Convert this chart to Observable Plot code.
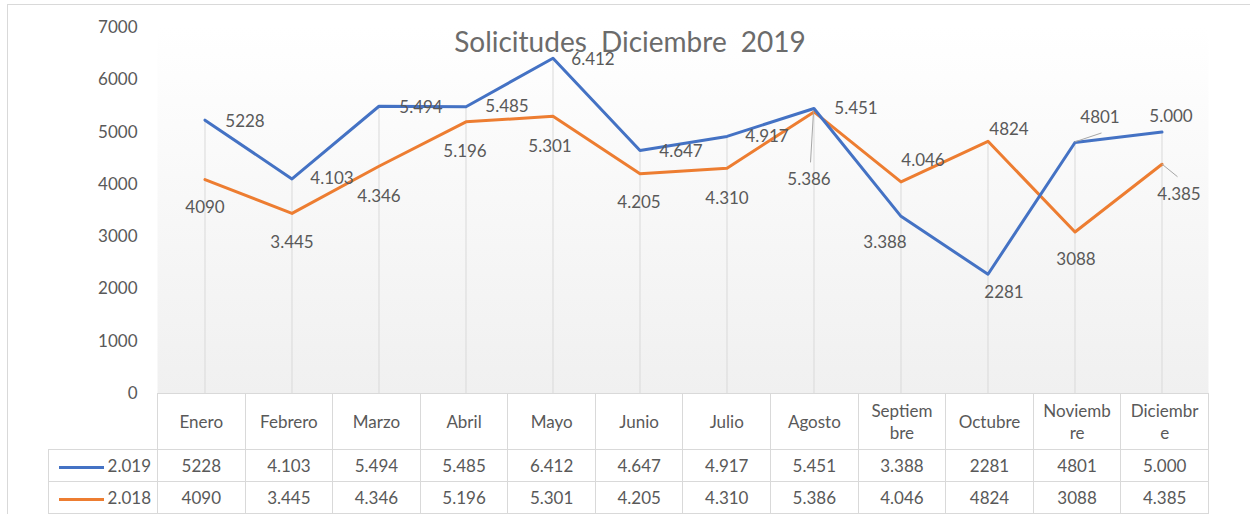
<!DOCTYPE html>
<html>
<head>
<meta charset="utf-8">
<script src="https://cdn.jsdelivr.net/npm/d3@7"></script>
<script src="https://cdn.jsdelivr.net/npm/@observablehq/plot@0.6"></script>
<style>
  html, body { margin: 0; padding: 0; background: #fff; }
  body { width: 1250px; height: 514px; position: relative; overflow: hidden; font-family: Lato, "Open Sans", sans-serif; }
  #border { position: absolute; left: 7px; top: 4px; width: 1300px; height: 600px; border: 1px solid #d9d9d9; box-sizing: border-box; }
  #chart { position: absolute; left: 0; top: 0; }
  #title { position: absolute; left: 330px; width: 600px; top: 26px; text-align: center; font-size: 28px; line-height: 30px; color: #6b6b6b; word-spacing: 7px; }
  #datatable { position: absolute; border-collapse: collapse; table-layout: fixed; color: #595959; font-size: 17px; }
  #datatable td { border: 1px solid #d9d9d9; text-align: center; padding: 0; }
  #datatable tr.head td { height: 55px; line-height: 22px; white-space: pre-line; }
  #datatable tr.row td { height: 31px; }
  #datatable td.blank { border-top: none; border-left: none; }
  #datatable td.legend { text-align: right; padding-right: 6px; }
  .swatch { display: inline-block; width: 45px; height: 3px; vertical-align: middle; margin-right: 4px; }
</style>
</head>
<body>
<div id="border"></div>
<div id="chart"></div>
<div id="title">Solicitudes Diciembre 2019</div>
<script>
// ---- data ----
const months = ["Enero","Febrero","Marzo","Abril","Mayo","Junio","Julio","Agosto","Septiembre","Octubre","Noviembre","Diciembre"];
const headerLabels = ["Enero","Febrero","Marzo","Abril","Mayo","Junio","Julio","Agosto","Septiem\nbre","Octubre","Noviemb\nre","Diciembr\ne"];
const seriesNames = ["2.019","2.018"];
const values2019 = [5228,4103,5494,5485,6412,4647,4917,5451,3388,2281,4801,5000];
const values2018 = [4090,3445,4346,5196,5301,4205,4310,5386,4046,4824,3088,4385];
const labels2019 = ["5228","4.103","5.494","5.485","6.412","4.647","4.917","5.451","3.388","2281","4801","5.000"];
const labels2018 = ["4090","3.445","4.346","5.196","5.301","4.205","4.310","5.386","4.046","4824","3088","4.385"];
const yTicks = [0,1000,2000,3000,4000,5000,6000,7000];

// ---- label placement (pixel offsets from each point) ----
const offsets2019 = [[40,1],[40,0],[42,1],[41,0],[40,1],[41,1],[40,0],[42,0],[-16,26],[16,18],[25,-25],[9,-16]];
const offsets2018 = [[0,28],[0,29],[0,30],[-1,30],[-3,30],[-1,29],[0,30],[-5,68],[22,-21],[21,-12],[1,28],[17,30]];
// leader lines: series, month index, end offset in px
const leaders = [
  {series: 0, i: 10, to: [27, -9]},
  {series: 1, i: 7, to: [-3, 51]},
  {series: 1, i: 11, to: [16, 13]}
];

const colors = ["#4472C4", "#ED7D31"];
const textColor = "#595959";

const seriesValues = [values2019, values2018];
const seriesLabels = [labels2019, labels2018];
const seriesOffsets = [offsets2019, offsets2018];

const rows = seriesValues.map((vals, s) => months.map((m, i) => ({
  month: m, value: vals[i], label: seriesLabels[s][i],
  dx: seriesOffsets[s][i][0], dy: seriesOffsets[s][i][1]
})));
const drops = months.map((m, i) => ({month: m, top: Math.max(values2019[i], values2018[i])}));

const labelMarks = [];
rows.forEach(r => r.forEach(d => {
  labelMarks.push(Plot.text([d], {x: "month", y: "value", text: "label", dx: d.dx, dy: d.dy,
    fill: textColor, fontSize: 17, fontFamily: "Lato", lineAnchor: "middle"}));
}));

const leaderMark = (index, scales) => {
  const g = d3.create("svg:g").attr("stroke", "#a6a6a6").attr("stroke-width", 1);
  const bw = scales.x.bandwidth ? scales.x.bandwidth() : 0;
  for (const L of leaders) {
    const m = months[L.i];
    const v = seriesValues[L.series][L.i];
    const x = scales.x(m) + bw / 2, y = scales.y(v);
    g.append("line").attr("x1", x).attr("y1", y).attr("x2", x + L.to[0]).attr("y2", y + L.to[1]);
  }
  return g.node();
};

const plot = Plot.plot({
  width: 1250,
  height: 396,
  marginLeft: 157,
  marginRight: 42,
  marginTop: 27,
  marginBottom: 3,
  style: {background: "transparent", color: textColor, fontFamily: "Lato", fontSize: "17px", overflow: "visible"},
  x: {type: "band", domain: months, padding: 0, axis: null},
  y: {domain: [0, 7000], axis: null},
  marks: [
    Plot.frame({fill: "url(#plotbg)", stroke: "none"}),
    Plot.axisY(yTicks, {tickSize: 0, tickPadding: 20, tickFormat: d3.format("d"), fontSize: 17, fill: textColor}),
    Plot.ruleX(drops, {x: "month", y1: 0, y2: "top", stroke: "#d9d9d9", strokeWidth: 1}),
    Plot.line(rows[1], {x: "month", y: "value", stroke: colors[1], strokeWidth: 3}),
    Plot.line(rows[0], {x: "month", y: "value", stroke: colors[0], strokeWidth: 3}),
    leaderMark,
    ...labelMarks
  ]
});

const defs = d3.select(plot).insert("defs", ":first-child");
const grad = defs.append("linearGradient").attr("id", "plotbg").attr("x1", 0).attr("y1", 0).attr("x2", 0).attr("y2", 1);
grad.append("stop").attr("offset", "0%").attr("stop-color", "#ffffff");
grad.append("stop").attr("offset", "100%").attr("stop-color", "#f0f0f0");

document.getElementById("chart").appendChild(plot);

// ---- data table aligned to the x scale ----
const sx = plot.scale("x");
const sy = plot.scale("y");
const x0 = sx.range[0], x1 = sx.range[1];
const step = (x1 - x0) / months.length;
const tableLeft = 48;
const table = d3.select("body").append("table").attr("id", "datatable")
  .style("left", tableLeft + "px").style("top", sy.range[0] + "px")
  .style("width", (x1 - tableLeft) + "px");
const colgroup = table.append("colgroup");
colgroup.append("col").style("width", (x0 - tableLeft) + "px");
months.forEach(() => colgroup.append("col").style("width", step + "px"));
const head = table.append("tr").attr("class", "head");
head.append("td").attr("class", "blank");
headerLabels.forEach(h => head.append("td").text(h));
seriesNames.forEach((name, s) => {
  const tr = table.append("tr").attr("class", "row");
  const lg = tr.append("td").attr("class", "legend");
  lg.append("span").attr("class", "swatch").style("background", colors[s]);
  lg.append("span").text(name);
  seriesLabels[s].forEach(l => tr.append("td").text(l));
});
</script>
</body>
</html>
